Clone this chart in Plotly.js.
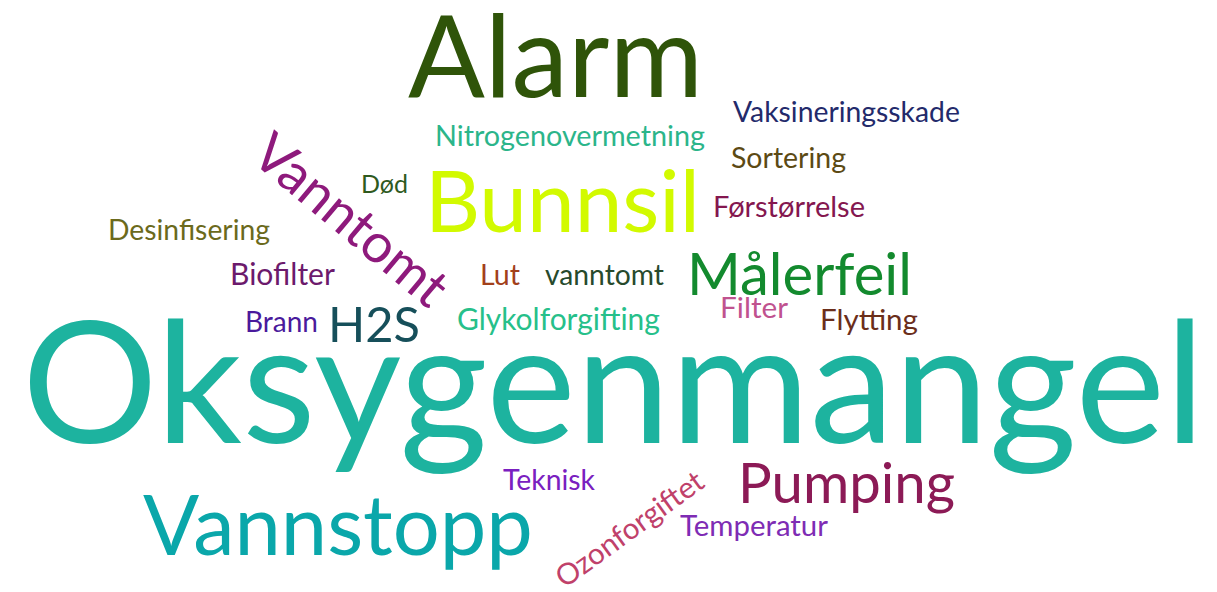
<!DOCTYPE html>
<html>
<head>
<meta charset="utf-8">
<script src="https://cdn.plot.ly/plotly-3.0.1.min.js"></script>
<style>
  html, body { margin: 0; padding: 0; background: #ffffff; }
  #chart { width: 1217px; height: 592px; }
</style>
</head>
<body>
<div id="chart"></div>
<script>
// ---- data: words and their (estimated) relative frequency ----
const words = [
  "Alarm", "Nitrogenovermetning", "Vaksineringsskade", "Sortering", "Død",
  "Bunnsil", "Førstørrelse", "Desinfisering", "Biofilter", "Lut",
  "vanntomt", "Målerfeil", "Brann", "H2S", "Glykolforgifting",
  "Filter", "Flytting", "Oksygenmangel", "Teknisk", "Pumping",
  "Vannstopp", "Temperatur", "Vanntomt", "Ozonforgiftet"
];
const counts = [
  9, 2, 2, 2, 1,
  6, 2, 2, 2, 1,
  2, 4, 1, 4, 2,
  1, 2, 16, 1, 5,
  8, 2, 4, 1
];

// ---- layout of the cloud (pixel space of the 1217x592 canvas) ----
const boxLeft = [
  408, 435, 733, 731, 361,
  425, 713, 108, 230, 480,
  545, 687, 245, 328, 457,
  720, 820, 22, 503, 738,
  143, 680, null, null
];
const boxRight = [
  703, 705, 960, 846, 408,
  700, 865, 270, 335, 520,
  664, 912, 318, 420, 660,
  788, 918, 1205, 595, 955,
  533, 828, null, null
];
const baselines = [
  97, 146, 122, 168, 193,
  232, 217, 240, 285, 285,
  285, 295, 332, 342, 330,
  318, 330, 443, 490, 503,
  555, 536, null, null
];
// rotated words: centre point, length along the baseline and angle
const rotCenterX = [352, 628];
const rotCenterY = [218, 528];
const rotLength = [235, 175];
const rotAngle = [40, -36];

const colors = [
  "#2f5409", "#2bb58a", "#232a6b", "#5c4a14", "#2f5a1e",
  "#d2fa00", "#84174f", "#6b6a1c", "#6c1a6c", "#a2401a",
  "#274a2c", "#138a2e", "#4a1a9c", "#164f5a", "#26c08a",
  "#c0528f", "#6b2e1a", "#1db39f", "#7a20c0", "#8c1a56",
  "#0aa7aa", "#7e2cb4", "#8e1a7c", "#c0416a"
];

const FONT = "Lato";
const canvas = document.createElement("canvas");
const ctx = canvas.getContext("2d");
ctx.font = "100px " + FONT;
function unitWidth(w) { return ctx.measureText(w).width / 100; }

const annotations = [];
let r = 0;
words.forEach((w, i) => {
  let x, y, size, angle;
  if (boxLeft[i] !== null) {
    const width = boxRight[i] - boxLeft[i];
    size = width / unitWidth(w);
    x = (boxLeft[i] + boxRight[i]) / 2;
    y = baselines[i] - 0.387 * size;
    angle = 0;
  } else {
    size = rotLength[r] / unitWidth(w);
    x = rotCenterX[r];
    y = rotCenterY[r];
    angle = rotAngle[r];
    r++;
  }
  annotations.push({
    x: x, y: y, xref: "x", yref: "y",
    text: w, showarrow: false,
    xanchor: "center", yanchor: "middle",
    textangle: angle,
    borderpad: 0,
    font: { family: FONT, size: size, color: colors[i] },
    hovertext: w + ": " + counts[i]
  });
});

const layout = {
  width: 1217, height: 592,
  margin: { l: 0, r: 0, t: 0, b: 0 },
  paper_bgcolor: "#ffffff", plot_bgcolor: "#ffffff",
  xaxis: { range: [0, 1217], visible: false, fixedrange: true },
  yaxis: { range: [592, 0], visible: false, fixedrange: true },
  showlegend: false,
  annotations: annotations
};

Plotly.newPlot("chart", [], layout, { displayModeBar: false, staticPlot: true });
</script>
</body>
</html>
